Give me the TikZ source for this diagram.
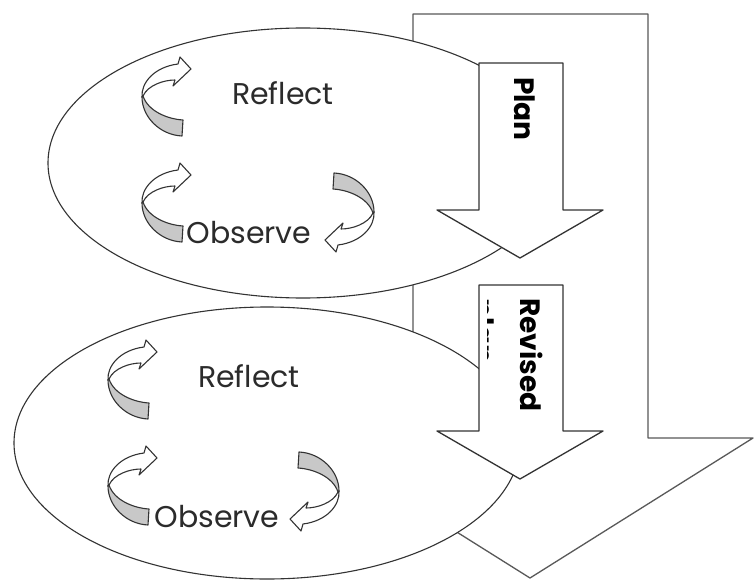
\documentclass[tikz,border=0pt]{standalone}
\usepackage{fontspec}
\setmainfont{Poppins}
\usetikzlibrary{shapes.geometric}
\definecolor{tx}{HTML}{2B2B2B}
\definecolor{ln}{HTML}{333333}
\definecolor{shade}{HTML}{C8C8C8}
\begin{document}
\begin{tikzpicture}[x=1pt,y=-1pt,line join=round,
  lnst/.style={draw=ln,line width=1.3pt},
  thin/.style={draw=ln,line width=1.1pt},
  txt/.style={text=tx,inner sep=0pt,font=\fontsize{30}{36}\selectfont},
  btxt/.style={text=black,inner sep=0pt,font=\fontsize{28}{34}\selectfont\bfseries},
  curvarrow/.pic={
    \draw[thin,fill=white] (0,0) .. controls (-1,-14) and (12,-30) .. (36,-33)
      -- (38,-40) -- (49,-28) -- (31,-11) -- (33,-17)
      .. controls (22,-17) and (6,-12) .. (1,-1) -- cycle;
    \draw[thin,fill=shade] (0,0) .. controls (0,20) and (18,38) .. (40,39)
      -- (41,23) .. controls (25,22) and (6,14) .. (1,-1) -- cycle;
  }]
\useasboundingbox (0,0) rectangle (754,580);
\fill[white] (0,0) rectangle (754,580);

% big background arrow
\draw[lnst,draw=black!65,fill=white] (413,14) -- (648,14) -- (648,438) -- (753,438)
  -- (530,578) -- (307,438) -- (413,438) -- cycle;

% cycles
\node[ellipse,thin,fill=white,minimum width=510pt,minimum height=270pt,inner sep=0pt] (cyc1) at (303,163) {};
\node[ellipse,thin,fill=white,minimum width=506pt,minimum height=272pt,inner sep=0pt] (cyc2) at (267,443) {};

% plan arrows
\draw[lnst,fill=white] (479,63) -- (563,63) -- (563,210) -- (603,210) -- (520,258)
  -- (437,210) -- (479,210) -- cycle;
\draw[lnst,fill=white] (479,285) -- (563,285) -- (563,431) -- (603,431) -- (520,479)
  -- (437,431) -- (479,431) -- cycle;

\node[btxt,rotate=-90,anchor=base west] (plan) at (514,77) {Plan};
\node[btxt,rotate=-90,anchor=base west] (rev) at (520,298) {Revised};
\begin{scope}
  \clip (487,286) rectangle (562,430);
  \node[btxt,rotate=-90,anchor=base west] (revplan) at (473,298) {plan};
\end{scope}

% labels
\node[txt,anchor=base] (refl1) at (283,105) {Reflect};
\node[txt,anchor=base] (obs1) at (249,243) {Observe};
\node[txt,anchor=base] (refl2) at (249,387) {Reflect};
\node[txt,anchor=base] (obs2) at (217,527) {Observe};

% small curved arrows
\pic at (142,97) {curvarrow};
\pic at (142,203) {curvarrow};
\pic[rotate=180] at (374,212) {curvarrow};
\pic at (108,380) {curvarrow};
\pic at (108,486) {curvarrow};
\pic[rotate=180] at (339,491) {curvarrow};
\end{tikzpicture}
\end{document}
